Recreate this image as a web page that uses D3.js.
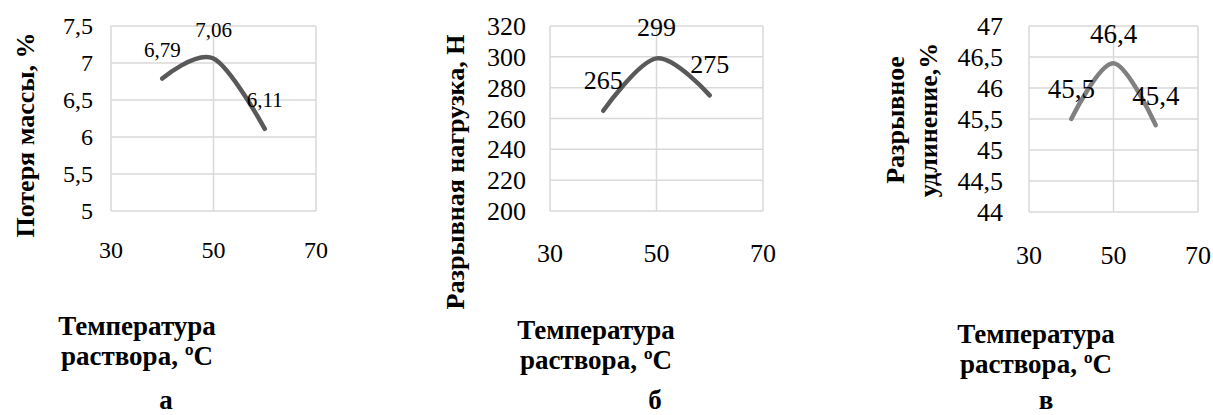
<!DOCTYPE html>
<html>
<head>
<meta charset="utf-8">
<script src="https://cdn.jsdelivr.net/npm/d3@7"></script>
<style>
  body { margin: 0; background: #fff; }
</style>
</head>
<body>
<svg id="chart"></svg>
<script>
// data
const temps = [40, 50, 60];
const xTicks = [30, 50, 70];

const massLoss = [6.79, 7.06, 6.11];
const massTicks = [5, 5.5, 6, 6.5, 7, 7.5];

const breakLoad = [265, 299, 275];
const loadTicks = [200, 220, 240, 260, 280, 300, 320];

const elongation = [45.5, 46.4, 45.4];
const elongTicks = [44, 44.5, 45, 45.5, 46, 46.5, 47];

const xTitle = ["Температура", "раствора, ºC"];
const panelLetters = ["а", "б", "в"];

const svgWidth = 1213;
const svgHeight = 415;
const serif = '"Liberation Serif"';

const svg = d3.select("#chart").attr("width", svgWidth).attr("height", svgHeight);

const comma = (v) => String(v).replace(".", ",");

// panel layout
const panels = [
  {
    values: massLoss, ticks: massTicks, yTitle: ["Потеря массы, %"],
    x0: 111, x1: 316, y0: 211, y1: 26,
    tickFont: 24, labelFont: 21, labelOff: 29, tickGap: 18,
    yTitleX: [25], yTitleY: 135, xTickY: 250,
    xTitleX: 137, xTitleY: [335, 365], letterX: 166,
    color: "#595959"
  },
  {
    values: breakLoad, ticks: loadTicks, yTitle: ["Разрывная нагрузка, Н"],
    x0: 550, x1: 763, y0: 211, y1: 26,
    tickFont: 26, labelFont: 26, labelOff: 31, tickGap: 24,
    yTitleX: [455], yTitleY: 172, xTickY: 253,
    xTitleX: 596, xTitleY: [339, 369], letterX: 655,
    color: "#595959"
  },
  {
    values: elongation, ticks: elongTicks, yTitle: ["Разрывное", "удлинение,%"],
    x0: 1029, x1: 1198, y0: 212, y1: 26,
    tickFont: 26, labelFont: 27, labelOff: 30, tickGap: 26,
    yTitleX: [895, 928], yTitleY: 120, xTickY: 255,
    xTitleX: 1036, xTitleY: [343, 373], letterX: 1046,
    color: "#808080"
  }
];

panels.forEach((p, i) => {
  const xScale = d3.scaleLinear().domain([30, 70]).range([p.x0, p.x1]);
  const yScale = d3.scaleLinear()
    .domain([d3.min(p.ticks), d3.max(p.ticks)])
    .range([p.y0, p.y1]);

  const g = svg.append("g");

  // gridlines
  g.selectAll(".hgrid")
    .data(p.ticks)
    .enter()
    .append("line")
    .attr("x1", p.x0)
    .attr("x2", p.x1)
    .attr("y1", (d) => yScale(d))
    .attr("y2", (d) => yScale(d))
    .attr("stroke", "#d9d9d9")
    .attr("stroke-width", 1.5);

  g.selectAll(".vgrid")
    .data(xTicks)
    .enter()
    .append("line")
    .attr("x1", (d) => xScale(d))
    .attr("x2", (d) => xScale(d))
    .attr("y1", p.y0)
    .attr("y2", p.y1)
    .attr("stroke", "#d9d9d9")
    .attr("stroke-width", 1.5);

  // y tick labels
  g.selectAll(".ytick")
    .data(p.ticks)
    .enter()
    .append("text")
    .attr("x", p.x0 - p.tickGap)
    .attr("y", (d) => yScale(d))
    .attr("dy", "0.35em")
    .attr("text-anchor", "end")
    .style("font-family", serif)
    .style("font-size", p.tickFont + "px")
    .text((d) => comma(d));

  // x tick labels, sitting well below the plot
  g.selectAll(".xtick")
    .data(xTicks)
    .enter()
    .append("text")
    .attr("x", (d) => xScale(d))
    .attr("y", p.xTickY)
    .attr("dy", "0.35em")
    .attr("text-anchor", "middle")
    .style("font-family", serif)
    .style("font-size", p.tickFont + "px")
    .text((d) => d);

  // smoothed line
  const pts = temps.map((t, k) => [t, p.values[k]]);
  const line = d3.line()
    .x((d) => xScale(d[0]))
    .y((d) => yScale(d[1]))
    .curve(d3.curveCardinal.tension(0));

  g.append("path")
    .datum(pts)
    .attr("d", line)
    .attr("fill", "none")
    .attr("stroke", p.color)
    .attr("stroke-width", 4.5)
    .attr("stroke-linecap", "round");

  // data labels
  g.selectAll(".lbl")
    .data(pts)
    .enter()
    .append("text")
    .attr("x", (d) => xScale(d[0]))
    .attr("y", (d) => yScale(d[1]) - p.labelOff)
    .attr("dy", "0.35em")
    .attr("text-anchor", "middle")
    .style("font-family", serif)
    .style("font-size", p.labelFont + "px")
    .text((d) => comma(d[1]));

  // y axis title (rotated)
  p.yTitle.forEach((t, k) => {
    g.append("text")
      .attr("transform", `translate(${p.yTitleX[k]},${p.yTitleY}) rotate(-90)`)
      .attr("dy", "0.35em")
      .attr("text-anchor", "middle")
      .style("font-family", serif)
      .style("font-weight", "bold")
      .style("font-size", "26px")
      .text(t);
  });

  // x axis title
  xTitle.forEach((t, k) => {
    g.append("text")
      .attr("x", p.xTitleX)
      .attr("y", p.xTitleY[k])
      .attr("text-anchor", "middle")
      .style("font-family", serif)
      .style("font-weight", "bold")
      .style("font-size", "27px")
      .text(t);
  });

  // panel letter
  g.append("text")
    .attr("x", p.letterX)
    .attr("y", 409)
    .attr("text-anchor", "middle")
    .style("font-family", serif)
    .style("font-weight", "bold")
    .style("font-size", "27px")
    .text(panelLetters[i]);
});
</script>
</body>
</html>
